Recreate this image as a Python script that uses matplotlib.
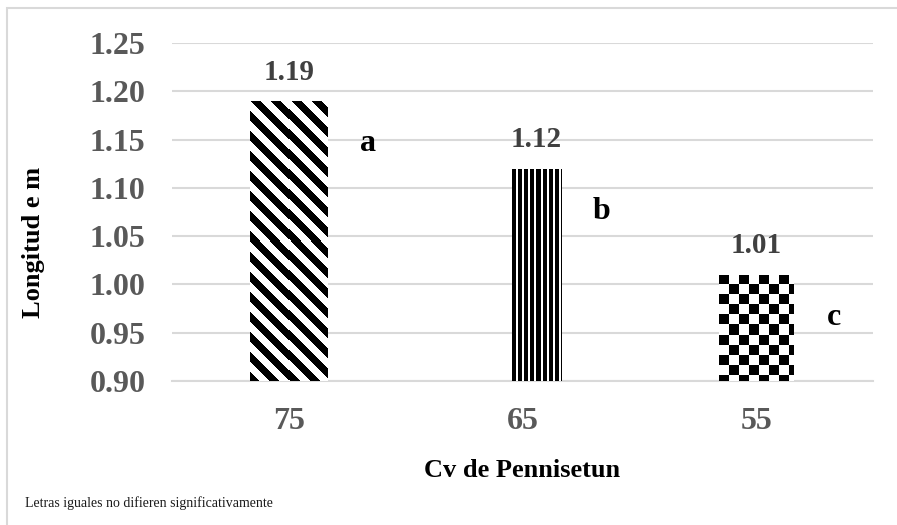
import numpy as np
import matplotlib
matplotlib.use('Agg')
import matplotlib.pyplot as plt
from matplotlib.patches import Rectangle

# datos
cultivares = ['75', '65', '55']
longitud = [1.19, 1.12, 1.01]
letras = ['a', 'b', 'c']
yticks = [0.90, 0.95, 1.00, 1.05, 1.10, 1.15, 1.20, 1.25]
base = 0.90

plt.rcParams['font.family'] = ['Liberation Serif', 'DejaVu Serif']

W, H = 897, 525
fig = plt.figure(figsize=(W / 100, H / 100), dpi=100)
ax = fig.add_axes([172 / W, 1 - 381 / H, (873 - 172) / W, (381 - 43) / H])

x = np.arange(len(cultivares))
anchos = [0.33, 0.21, 0.32]
desplaz = [0.0, 0.06, 0.0]


# tramas en pixeles (fila 0 = arriba)
def diagonal(r, c):
    return ((c - r) % 20) < 10


def vertical(r, c):
    return (c % 6) < 4


def tablero(r, c):
    return ((r // 10 + c // 10) % 2) == 0


tramas = [diagonal, vertical, tablero]

barras = []
for i in range(len(cultivares)):
    b = ax.bar(x[i] + desplaz[i], longitud[i] - base, bottom=base, width=anchos[i],
               color='white', linewidth=0, zorder=3)
    barras.append(b.patches[0])

ax.set_xlim(-0.5, 2.5)
ax.set_ylim(yticks[0], yticks[-1])


def rellenar(p, trama):
    x0, y0, w, h = p.get_x(), p.get_y(), p.get_width(), p.get_height()
    (px0, py0) = ax.transData.transform((x0, y0))
    (px1, py1) = ax.transData.transform((x0 + w, y0 + h))
    nc = int(round(px1 - px0))
    nr = int(round(py1 - py0))
    r, c = np.indices((nr, nc))
    img = np.where(trama(r, c), 0.0, 1.0)
    im = ax.imshow(img, extent=(x0, x0 + w, y0, y0 + h), origin='upper',
                   cmap='gray', vmin=0, vmax=1, aspect='auto',
                   interpolation='nearest', zorder=3.5)
    im.set_clip_path(p)


for i in range(len(cultivares)):
    rellenar(barras[i], tramas[i])

ax.set_xlim(-0.5, 2.5)
ax.set_ylim(yticks[0], yticks[-1])

# etiquetas de valores y letras
for i in range(len(cultivares)):
    xc = x[i] + desplaz[i]
    ax.annotate('%.2f' % longitud[i], xy=(xc, longitud[i]), xytext=(0, 11),
                textcoords='offset points', ha='center', va='bottom',
                fontsize=21, fontweight='bold', color='#404040')
    ax.annotate(letras[i], xy=(xc + anchos[i] / 2, longitud[i]),
                xytext=(29, -31), textcoords='offset points',
                ha='center', va='center', fontsize=23, fontweight='bold',
                color='black')

ax.set_xticks(x)
ax.set_xticklabels(cultivares)
ax.set_yticks(yticks)
ax.set_yticklabels(['%.2f' % v for v in yticks])
ax.tick_params(axis='both', length=0, labelsize=23, labelcolor='#595959', pad=19)
for t in ax.get_xticklabels() + ax.get_yticklabels():
    t.set_fontweight('bold')

ax.yaxis.grid(True, color='#d9d9d9', linewidth=1.5)
ax.set_axisbelow(True)
for lado in ['left', 'top', 'right']:
    ax.spines[lado].set_visible(False)
ax.spines['bottom'].set_color('#d9d9d9')
ax.spines['bottom'].set_linewidth(1.5)

ax.set_xlabel('Cv de Pennisetun', fontsize=19, fontweight='bold', color='black')
ax.xaxis.set_label_coords(0.5, -0.266)
ax.xaxis.label.set_va('center')
ax.set_ylabel('Longitud e m', fontsize=19, fontweight='bold', color='black')
ax.yaxis.set_label_coords(-0.198, 0.41)
ax.yaxis.label.set_va('center')

fig.text(25 / W, 1 - 503 / H, 'Letras iguales no difieren significativamente',
         fontsize=10, va='center', ha='left', color='#1a1a1a')

# marco
marco = Rectangle((7 / W, -0.05), 1.2, 1 - 8 / H + 0.05, transform=fig.transFigure,
                  fill=False, edgecolor='#d9d9d9', linewidth=1.5)
fig.patches.append(marco)

fig.savefig('out.png', dpi=100)
